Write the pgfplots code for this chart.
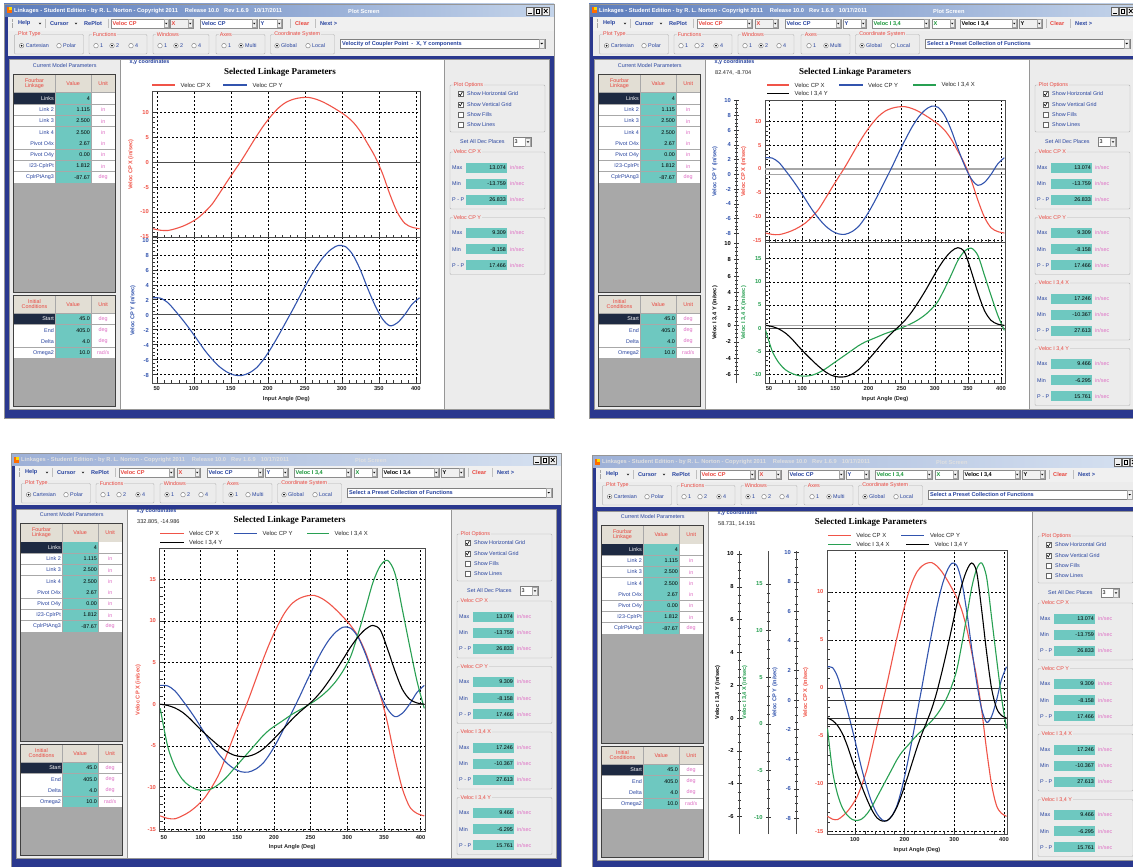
\documentclass[border=0pt]{standalone}
\usepackage{pgfplots}
\pgfplotsset{compat=1.18}
\usepackage{pgfplotstable}
\usepackage{fontspec}
\setmainfont{Liberation Sans}
\newfontfamily\ttlfont{Liberation Serif}

\definecolor{navyframe}{RGB}{42,56,142}
\definecolor{tbA}{RGB}{92,124,188}
\definecolor{tbB}{RGB}{196,212,234}
\definecolor{barbg}{RGB}{240,240,240}
\definecolor{pnl}{RGB}{236,236,236}
\definecolor{sep}{RGB}{150,150,150}
\definecolor{tblgray}{RGB}{168,168,168}
\definecolor{hdr}{RGB}{226,222,212}
\definecolor{navycell}{RGB}{30,42,66}
\definecolor{teal}{RGB}{110,200,192}
\definecolor{guired}{RGB}{232,70,62}
\definecolor{guiblue}{RGB}{38,66,158}
\definecolor{guipink}{RGB}{222,110,196}
\definecolor{guigreen}{RGB}{24,150,56}
\definecolor{cred}{RGB}{240,84,72}
\definecolor{cblue}{RGB}{50,84,174}
\definecolor{cgreen}{RGB}{40,160,82}

% velocities over one crank revolution (in/sec)
\pgfplotstableread{
ang   cpx     cpy     ix      iy
45   -13.40   2.25   -0.50    0.00
55   -13.70   2.20   -5.00   -0.15
65   -13.75   1.60   -7.50   -0.45
75   -13.40   0.50   -9.00   -0.95
85   -12.90  -0.70   -9.80   -1.70
95   -12.20  -2.00  -10.25   -2.60
105  -11.30  -3.40  -10.35   -3.45
115  -10.00  -4.80  -10.15   -4.25
125   -8.40  -6.00   -9.60   -5.00
135   -6.20  -7.00   -8.80   -5.65
145   -3.90  -7.70   -7.80   -6.10
155   -1.70  -8.10   -6.80   -6.28
165    0.50  -8.15   -5.80   -6.25
175    2.90  -7.80   -4.80   -5.95
185    5.30  -7.10   -3.80   -5.40
195    7.50  -5.90   -3.00   -4.60
205    9.40  -4.40   -2.40   -3.70
215   11.00  -2.70   -1.80   -2.75
225   12.10  -0.90   -1.20   -1.80
235   12.70   0.90   -0.70   -0.95
245   13.00   2.80   -0.20   -0.20
255   13.05   4.60    0.35    0.60
265   12.70   6.30    1.00    1.60
275   12.10   7.70    1.80    2.80
285   11.30   8.70    2.80    4.10
295   10.40   9.25    4.10    5.50
305    9.40   9.10    5.80    6.90
315    8.10   8.00    8.50    8.10
325    6.20   6.00   11.50    9.00
335    3.70   3.50   14.60    9.45
345    1.10   1.20   16.60    8.90
355   -2.30  -0.60   17.25    6.60
365   -6.50  -1.50   15.70    4.00
375  -10.10  -1.10   11.40    1.80
385  -12.30   0.00    7.00    0.60
395  -13.10   1.40    2.80    0.15
405  -13.40   2.25   -0.50    0.00
}\vel

\newcommand\gf{\fontsize{5.4}{6}\selectfont}
\newcommand\gfb{\fontsize{5.6}{6}\selectfont\bfseries}
\newcommand\tfb{\fontsize{5.7}{6}\selectfont\bfseries}

% ---------- window pieces (coordinates relative to the window corner) ----------
\newcommand\dd[2]{\fill[black] (#1-1.3,#2+0.7) -- (#1+1.3,#2+0.7) -- (#1,#2-0.8) -- cycle;}

\newcommand\winframe[3]{% title bar left colour, right colour, text colour
  \fill[pnl] (0,0) rectangle (550,-414);
  \shade[left color=#1,right color=#2] (0,0) rectangle (550,-13);
  \fill[orange!85!red] (2.5,-3.5) rectangle (7.5,-9.5);
  \fill[yellow!80!orange] (4.5,-3.5) rectangle (7.5,-6.5);
  \node[anchor=west,text=#3,font=\tfb,inner sep=0] at (10,-7.2)
    {Linkages - Student Edition - by R. L. Norton - Copyright 2011\hspace{7pt}Release 10.0\hspace{5pt}Rev 1.6.9\hspace{5pt}10/17/2011};
  \node[anchor=west,text=#3,font=\tfb,inner sep=0] at (344,-7.2) {Plot Screen};
  \foreach \bx in {522,530,538}{\draw[black!60,fill=barbg] (\bx,-3) rectangle (\bx+7.5,-11);}
  \draw[black,line width=0.8pt] (524,-9.2) -- (527.5,-9.2);
  \draw[black,line width=0.6pt] (532,-5) rectangle (535.5,-9);
  \draw[black,line width=0.8pt] (540,-5) -- (543.5,-9) (540,-9) -- (543.5,-5);
  \fill[barbg] (0,-13) rectangle (550,-27);
  \fill[navyframe] (0,-13) rectangle (4,-414);
  \fill[pnl] (4,-27) rectangle (550,-52);
  \fill[navyframe] (0,-52) rectangle (550,-414);
  \fill[sep] (5,-55.5) rectangle (545.5,-405.5);
  \fill[pnl] (6,-56.5) rectangle (115.5,-405);
  \fill[white] (117,-56.5) rectangle (439.5,-405);
  \fill[pnl] (441,-56.5) rectangle (545,-405);
  \draw[sep] (0,0) rectangle (550,-414);
}

\newcommand\tbsep[1]{\draw[black!25] (#1,-15) -- (#1,-24);}
\newcommand\tbtext[3]{\node[anchor=west,font=\gfb,text=#2,inner sep=0] at (#1,-19.5) {#3};}
\newcommand\toolbarstart{%
  \draw[black!35,dash pattern=on 0.6pt off 0.6pt] (8,-15) -- (8,-24);
  \tbtext{14}{guiblue}{Help}\dd{36}{-19.5}\tbsep{41}
  \tbtext{46}{guiblue}{Cursor}\dd{72}{-19.5}
  \tbtext{80}{guiblue}{RePlot}\tbsep{104}
}
\newcommand\combo[5]{% x1, x2, colour, text, fill
  \draw[black!45,fill=#5] (#1,-15) rectangle (#2,-24);
  \fill[barbg] (#2-5,-15.5) rectangle (#2-0.5,-23.5);
  \draw[black!35] (#2-5,-15.5) rectangle (#2-0.5,-23.5);
  \dd{#2-2.75}{-19.5}
  \node[anchor=west,font=\gfb,text=#3,inner sep=0] at (#1+1.5,-19.5) {#4};
}
\newcommand\toolbarTwo{%
  \toolbarstart
  \combo{107}{165}{guired}{Veloc CP}{white}
  \combo{166}{189}{guired}{X}{barbg}
  \combo{196}{253}{guiblue}{Veloc CP}{white}
  \combo{255}{278}{guiblue}{Y}{white}
  \tbsep{286}\tbtext{291}{guired}{Clear}\tbsep{311}\tbtext{316}{guiblue}{Next >}
}
\newcommand\toolbarFour{%
  \toolbarstart
  \combo{108}{163}{guired}{Veloc CP}{white}
  \combo{166}{189}{guired}{X}{barbg}
  \combo{196}{252}{guiblue}{Veloc CP}{white}
  \combo{254}{277}{guiblue}{Y}{white}
  \combo{283}{340}{guigreen}{Veloc I 3,4}{white}
  \combo{343}{366}{guigreen}{X}{white}
  \combo{371}{428}{black}{Veloc I 3,4}{white}
  \combo{430}{453}{black}{Y}{barbg}
  \tbsep{457}\tbtext{461}{guired}{Clear}\tbsep{481}\tbtext{486}{guiblue}{Next >}
}

\newcommand\grp[3]{%
  \draw[black!30,rounded corners=1pt] (#1,-30.5) rectangle (#2,-50);
  \node[fill=pnl,inner sep=0.6pt,anchor=west,font=\gf,text=guired] at (#1+3,-30.5) {#3};
}
\newcommand\radio[3]{%
  \draw[black!55,fill=white] (#1,-41.7) circle (2.3);
  \ifnum#2=1 \fill[black] (#1,-41.7) circle (1);\fi
  \node[anchor=west,font=\gf,text=guiblue,inner sep=0] at (#1+4,-41.7) {#3};
}
\newcommand\optionsrow[4]{% functions, windows, axes (0=1,1=Multi), preset text
  \grp{10.4}{79.5}{Plot Type}
  \radio{17.6}{1}{Cartesian}\radio{55}{0}{Polar}
  \grp{85}{143}{Functions}
  \radio{92}{\ifnum#1=1 1\else0\fi}{1}\radio{108}{\ifnum#1=2 1\else0\fi}{2}\radio{127}{\ifnum#1=4 1\else0\fi}{4}
  \grp{149}{205}{Windows}
  \radio{156}{\ifnum#2=1 1\else0\fi}{1}\radio{172}{\ifnum#2=2 1\else0\fi}{2}\radio{190}{\ifnum#2=4 1\else0\fi}{4}
  \grp{212}{261}{Axes}
  \radio{220}{\ifnum#3=0 1\else0\fi}{1}\radio{237}{\ifnum#3=1 1\else0\fi}{Multi}
  \grp{266.5}{330.5}{Coordinate System}
  \radio{273}{1}{Global}\radio{304}{0}{Local}
  \draw[black!50,fill=white] (336,-35) rectangle (541,-44.5);
  \fill[barbg] (535,-35.5) rectangle (540.5,-44);
  \draw[black!35] (535,-35.5) rectangle (540.5,-44);
  \dd{537.75}{-39.7}
  \node[anchor=west,font=\gfb,text=guiblue,inner sep=0] at (338,-39.8) {#4};
}

\newcommand\leftpanel{%
  \node[font=\gf,text=guiblue] at (60.7,-61.3) {Current Model Parameters};
  \fill[tblgray] (9.5,-70.5) rectangle (111.5,-288);
  \draw[black!75,line width=0.9pt] (9.5,-70.5) rectangle (111.5,-288);
  \fill[hdr] (10,-71) rectangle (51,-88.5);
  \fill[hdr] (51.5,-71) rectangle (87,-88.5);
  \fill[hdr] (87.5,-71) rectangle (111,-88.5);
  \node[font=\gf,text=guired,align=center,inner sep=0] at (30.5,-79.7) {Fourbar\\[-0.5pt]Linkage};
  \node[font=\gf,text=guired] at (69.2,-79.7) {Value};
  \node[font=\gf,text=guired] at (99.2,-79.7) {Unit};
  \foreach \la/\va/\un [count=\i from 0] in {Links/4/{},Link 2/1.115/in,Link 3/2.500/in,Link 4/2.500/in,Pivot O4x/2.67/in,Pivot O4y/0.00/in,I23-CplrPt/1.812/in,CplrPtAng3/-87.67/deg}{
    \pgfmathsetmacro\yt{-89.3-11.25*\i}
    \pgfmathsetmacro\yb{\yt-10.5}
    \pgfmathsetmacro\yc{\yt-5.25}
    \ifnum\i=0 \fill[navycell] (10,\yt) rectangle (51,\yb);\def\lc{white}\else\fill[white] (10,\yt) rectangle (51,\yb);\def\lc{guiblue}\fi
    \fill[teal] (51.5,\yt) rectangle (87,\yb);
    \fill[white] (87.5,\yt) rectangle (111,\yb);
    \node[anchor=east,font=\gf,text=\lc,inner sep=0] at (50,\yc) {\la};
    \node[anchor=east,font=\gf,text=black,inner sep=0] at (86,\yc) {\va};
    \node[font=\gf,text=guipink,inner sep=0] at (99.2,\yc) {\un};
  }
  \fill[tblgray] (9.5,-291) rectangle (111.5,-402);
  \draw[black!75,line width=0.9pt] (9.5,-291) rectangle (111.5,-402);
  \fill[hdr] (10,-291.5) rectangle (51,-309);
  \fill[hdr] (51.5,-291.5) rectangle (87,-309);
  \fill[hdr] (87.5,-291.5) rectangle (111,-309);
  \node[font=\gf,text=guired,align=center,inner sep=0] at (30.5,-300.2) {Initial\\[-0.5pt]Conditions};
  \node[font=\gf,text=guired] at (69.2,-300.2) {Value};
  \node[font=\gf,text=guired] at (99.2,-300.2) {Unit};
  \foreach \la/\va/\un [count=\i from 0] in {Start/45.0/deg,End/405.0/deg,Delta/4.0/deg,Omega2/10.0/{rad/s}}{
    \pgfmathsetmacro\yt{-309.8-11.25*\i}
    \pgfmathsetmacro\yb{\yt-10.5}
    \pgfmathsetmacro\yc{\yt-5.25}
    \ifnum\i=0 \fill[navycell] (10,\yt) rectangle (51,\yb);\def\lc{white}\else\fill[white] (10,\yt) rectangle (51,\yb);\def\lc{guiblue}\fi
    \fill[teal] (51.5,\yt) rectangle (87,\yb);
    \fill[white] (87.5,\yt) rectangle (111,\yb);
    \node[anchor=east,font=\gf,text=\lc,inner sep=0] at (50,\yc) {\la};
    \node[anchor=east,font=\gf,text=black,inner sep=0] at (86,\yc) {\va};
    \node[font=\gf,text=guipink,inner sep=0] at (99.2,\yc) {\un};
  }
}

\newcommand\rightpanelbase{%
  \draw[black!30,rounded corners=1pt] (446,-81) rectangle (541,-128);
  \node[fill=pnl,inner sep=0.5pt,anchor=west,font=\gf,text=guired] at (449,-81) {Plot Options};
  \foreach \t/\c [count=\i from 0] in {Show Horizontal Grid/1,Show Vertical Grid/1,Show Fills/0,Show Lines/0}{
    \pgfmathsetmacro\yc{-90-10.3*\i}
    \draw[black!60,fill=white] (454,\yc+2.5) rectangle (459,\yc-2.5);
    \ifnum\c=1 \draw[black,line width=0.6pt] (455,\yc) -- (456.3,\yc-1.6) -- (458.3,\yc+1.9);\fi
    \node[anchor=west,font=\gf,text=guiblue,inner sep=0] at (463,\yc) {\t};
  }
  \node[anchor=west,font=\gf,text=guiblue,inner sep=0] at (456,-138) {Set All Dec Places};
  \draw[black!50,fill=white] (509,-133.5) rectangle (527,-142.5);
  \fill[barbg] (521.5,-134) rectangle (526.5,-142);
  \draw[black!35] (521.5,-134) rectangle (526.5,-142);
  \dd{524}{-138}
  \node[anchor=west,font=\gf,inner sep=0] at (510.5,-138) {3};
}
\newcommand\valgroup[5]{% slot, name, max, min, p-p
  \pgfmathsetmacro\gtop{-148-65.5*#1}
  \draw[black!30,rounded corners=1pt] (446,\gtop) rectangle (541,\gtop-57);
  \node[fill=pnl,inner sep=0.5pt,anchor=west,font=\gf,text=guired] at (449,\gtop) {#2};
  \foreach \lab/\v [count=\r from 0] in {Max/#3,Min/#4,P - P/#5}{
    \pgfmathsetmacro\yc{\gtop-15.5-16.2*\r}
    \node[anchor=west,font=\gf,text=guiblue,inner sep=0] at (448,\yc) {\lab};
    \fill[teal] (462,\yc+5) rectangle (503,\yc-5);
    \node[anchor=east,font=\gf,inner sep=0] at (502,\yc) {\v};
    \node[anchor=west,font=\gf,text=guipink,inner sep=0] at (506,\yc) {in/sec};
  }
}
\newcommand\fourgroups{%
  \valgroup{0}{Veloc CP X}{13.074}{-13.759}{26.833}
  \valgroup{1}{Veloc CP Y}{9.309}{-8.158}{17.466}
  \valgroup{2}{Veloc I 3,4 X}{17.246}{-10.367}{27.613}
  \valgroup{3}{Veloc I 3,4 Y}{9.466}{-6.295}{15.761}
}
\newcommand\xycoord[1]{%
  \node[anchor=west,font=\fontsize{5.4}{6}\selectfont\bfseries,text=guiblue,inner sep=0] at (125.5,-58.5) {x,y coordinates};
  \node[anchor=west,font=\fontsize{5.6}{6}\selectfont,text=black!85,inner sep=0] at (126,-68.5) {#1};
}

% ---------- plot pieces (absolute coordinates) ----------
\newcommand\plottitle[2]{\node[font=\ttlfont\bfseries\fontsize{9}{10}\selectfont] at (#1,-#2) {Selected Linkage Parameters};}
\newcommand\leg[5]{%
  \fill[#4] (#1,-#3+0.75) rectangle (#2,-#3-0.75);
  \node[anchor=west,font=\fontsize{5.9}{7}\selectfont,inner sep=0,text=black!85] at (#2+5.5,-#3) {#5};
}

\pgfplotsset{
  lkmain/.style={
    scale only axis, anchor=north west,
    xmin=44, xmax=406,
    /pgf/number format/assume math mode=true,
    axis line style={draw=black!70, line width=0.7pt},
    every tick/.style={draw=black!80, line width=0.45pt},
    major tick length=4.5pt, minor tick length=3pt,
    tick align=inside,
    xtick pos=bottom, ytick pos=left,
    xtick={50,100,...,400}, minor x tick num=4,
    xmajorgrids, ymajorgrids,
    major grid style={draw=black, line width=0.4pt, dash pattern=on 2pt off 2pt},
    tick label style={font=\fontsize{5.8}{7}\selectfont\bfseries},
    xticklabel style={text=black!85},
    label style={font=\fontsize{5.6}{6.5}\selectfont\bfseries},
    xlabel style={text=black!85, yshift=1.5pt},
  },
  lkhid/.style={scale only axis, anchor=north west, xmin=44, xmax=406, hide axis},
  lkruler/.style={
    scale only axis, anchor=north west, width=1pt, xmin=0, xmax=1,
    /pgf/number format/assume math mode=true,
    hide x axis, axis y line=left,
    y axis line style={-, draw=black!70, line width=0.6pt},
    every tick/.style={draw=black!80, line width=0.45pt},
    major tick length=4.5pt, minor tick length=3pt, tick align=center,
    tick label style={font=\fontsize{5.8}{7}\selectfont\bfseries},
    label style={font=\fontsize{5.6}{6.5}\selectfont\bfseries},
  },
  redy/.style={ytick={-15,-10,...,15}, minor y tick num=4, yticklabel style={text=cred}, ylabel style={text=cred}},
  bluey/.style={ytick={-8,-6,...,10}, minor y tick num=3, yticklabel style={text=cblue}, ylabel style={text=cblue}},
  greeny/.style={ytick={-10,-5,...,15}, minor y tick num=4, yticklabel style={text=cgreen}, ylabel style={text=cgreen}},
  blacky/.style={ytick={-6,-4,...,10}, minor y tick num=3, yticklabel style={text=black}, ylabel style={text=black}},
  crv/.style={line width=1.1pt, smooth, mark=none},
}

\begin{document}
\begin{tikzpicture}[x=1pt,y=1pt]
\useasboundingbox (0,0) rectangle (1133,-867);
\clip (0,0) rectangle (1133,-867);
\fill[white] (0,0) rectangle (1133,-867);

% ===== window 1 =====
\begin{scope}[shift={(4,-4)}]
  \winframe{tbA}{tbB}{white} \toolbarTwo
  \optionsrow{2}{2}{1}{Velocity of Coupler Point\hspace{3pt}-\hspace{3pt}X, Y components}
  \leftpanel \rightpanelbase
  \valgroup{0}{Veloc CP X}{13.074}{-13.759}{26.833}
  \valgroup{1}{Veloc CP Y}{9.309}{-8.158}{17.466}
  \node[anchor=west,font=\fontsize{5.4}{6}\selectfont\bfseries,text=guiblue,inner sep=0] at (125.5,-58.5) {x,y coordinates};
\end{scope}
% ===== window 2 =====
\begin{scope}[shift={(589,-4)}]
  \winframe{tbA}{tbB}{white} \toolbarFour
  \optionsrow{4}{2}{1}{Select a Preset Collection of Functions}
  \leftpanel \rightpanelbase \fourgroups
  \xycoord{82.474, -8.704}
\end{scope}
% ===== window 3 =====
\begin{scope}[shift={(11,-453)}]
  \winframe{tbA!60!white}{tbB!70!white}{white!88!black} \toolbarFour
  \optionsrow{4}{1}{0}{Select a Preset Collection of Functions}
  \leftpanel \rightpanelbase \fourgroups
  \xycoord{332.805, -14.986}
\end{scope}
% ===== window 4 =====
\begin{scope}[shift={(592,-455)}]
  \winframe{tbA!60!white}{tbB!70!white}{white!88!black} \toolbarFour
  \optionsrow{4}{1}{1}{Select a Preset Collection of Functions}
  \leftpanel \rightpanelbase \fourgroups
  \xycoord{58.731, 14.191}
\end{scope}

% ===== titles and legends of the four plots =====
\plottitle{280}{72.3}
\leg{151.7}{175}{85}{cred}{Veloc CP X}
\leg{223}{247}{85}{cblue}{Veloc CP Y}

\plottitle{855}{72}
\leg{767}{789}{85}{cred}{Veloc CP X}
\leg{839}{862.5}{85}{cblue}{Veloc CP Y}
\leg{913}{936}{85}{cgreen}{Veloc I 3,4 X}
\leg{767}{789}{93.3}{black}{Veloc I 3,4 Y}

\plottitle{289.6}{520.7}
\leg{160}{183.5}{533.5}{cred}{Veloc CP X}
\leg{234}{257}{533.5}{cblue}{Veloc CP Y}
\leg{306.5}{329}{533.5}{cgreen}{Veloc I 3,4 X}
\leg{160}{183.5}{542.5}{black}{Veloc I 3,4 Y}

\plottitle{870.8}{522.7}
\leg{827.7}{850.7}{535.5}{cred}{Veloc CP X}
\leg{901}{924.4}{535.5}{cblue}{Veloc CP Y}
\leg{827.7}{850.7}{544.5}{cgreen}{Veloc I 3,4 X}
\leg{905.7}{929}{544.5}{black}{Veloc I 3,4 Y}

% ===== plot 1: two stacked axes =====
\begin{axis}[lkmain,redy,at={(152.3pt,-91.7pt)},width=268pt,height=146pt,
  ymin=-15.2,ymax=14.2,ytick={-15,-10,...,10},xticklabels={},ylabel={Veloc CP X (in/sec)}]
  \draw[black!70,line width=0.6pt] (axis cs:44,0) -- (axis cs:406,0);
  \addplot[cred,crv] table[x=ang,y=cpx]{\vel};
\end{axis}
\begin{axis}[lkmain,bluey,at={(152.3pt,-237.7pt)},width=268pt,height=145.6pt,
  ymin=-9.2,ymax=10.3,ylabel={Veloc CP Y (in/sec)},xlabel={Input Angle (Deg)},
  yticklabel style={yshift=-1pt}]
  \draw[black!70,line width=0.6pt] (axis cs:44,0) -- (axis cs:406,0);
  \addplot[cblue,crv] table[x=ang,y=cpy]{\vel};
\end{axis}

% ===== plot 2: stacked, two scales each =====
\begin{axis}[lkruler,bluey,at={(736.7pt,-100.7pt)},height=141.6pt,ymin=-9.24,ymax=10.0,ylabel={Veloc CP Y (in/sec)}]
\end{axis}
\begin{axis}[lkmain,redy,at={(765pt,-100.7pt)},width=240pt,height=141.6pt,
  ymin=-15.35,ymax=14.3,ytick={-15,-10,...,10},xticklabels={},ylabel={Veloc CP X (in/sec)}]
  \draw[black!35,line width=1.4pt] (axis cs:44,0) -- (axis cs:406,0);
  \addplot[cred,crv] table[x=ang,y=cpx]{\vel};
\end{axis}
\begin{axis}[lkhid,at={(765pt,-100.7pt)},width=240pt,height=141.6pt,ymin=-9.24,ymax=10.0]
  \draw[black!35,line width=1.4pt] (axis cs:44,0) -- (axis cs:406,0);
  \addplot[cblue,crv] table[x=ang,y=cpy]{\vel};
\end{axis}
\begin{axis}[lkruler,blacky,at={(736.7pt,-242.3pt)},height=141pt,ymin=-7.05,ymax=10.1,ylabel={Veloc I 3,4 Y (in/sec)}]
\end{axis}
\begin{axis}[lkmain,greeny,at={(765pt,-242.3pt)},width=240pt,height=141pt,
  ymin=-11.9,ymax=18.5,ylabel={Veloc I 3,4 X (in/sec)},xlabel={Input Angle (Deg)}]
  \draw[black!70,line width=0.6pt] (axis cs:44,0) -- (axis cs:406,0);
  \addplot[cgreen,crv] table[x=ang,y=ix]{\vel};
\end{axis}
\begin{axis}[lkhid,at={(765pt,-242.3pt)},width=240pt,height=141pt,ymin=-7.05,ymax=10.1]
  \draw[black!35,line width=1.4pt] (axis cs:44,0) -- (axis cs:406,0);
  \addplot[black,crv] table[x=ang,y=iy]{\vel};
\end{axis}

% ===== plot 3: one axis, all four =====
\begin{axis}[lkmain,redy,at={(159.5pt,-548.3pt)},width=265.5pt,height=283.4pt,
  ymin=-15.3,ymax=18.7,ylabel={Veloc CP X (in/sec)},xlabel={Input Angle (Deg)}]
  \draw[black!70,line width=0.6pt] (axis cs:44,0) -- (axis cs:406,0);
  \addplot[cred,crv] table[x=ang,y=cpx]{\vel};
  \addplot[cblue,crv] table[x=ang,y=cpy]{\vel};
  \addplot[cgreen,crv] table[x=ang,y=ix]{\vel};
  \addplot[black,crv] table[x=ang,y=iy]{\vel};
\end{axis}

% ===== plot 4: four scales side by side =====
\begin{axis}[lkruler,blacky,at={(739.3pt,-550.7pt)},height=283.3pt,ymin=-7.07,ymax=10.2,ylabel={Veloc I 3,4 Y (in/sec)}]
\end{axis}
\begin{axis}[lkruler,greeny,at={(768.3pt,-550.7pt)},height=283.3pt,ymin=-11.8,ymax=18.56,ylabel={Veloc I 3,4 X (in/sec)}]
\end{axis}
\begin{axis}[lkruler,bluey,at={(796.7pt,-550.7pt)},height=283.3pt,ymin=-9.05,ymax=10.1,ylabel={Veloc CP Y (in/sec)}]
\end{axis}
\begin{axis}[lkmain,redy,at={(827pt,-550.7pt)},width=180pt,height=283.3pt,
  ymin=-15.25,ymax=14.3,ytick={-15,-10,...,10},xtick={100,200,300,400},minor x tick num=4,
  ylabel={Veloc CP X (in/sec)},xlabel={Input Angle (Deg)}]
  \draw[black!80,line width=0.6pt] (axis cs:44,0) -- (axis cs:406,0);
  \addplot[cred,crv] table[x=ang,y=cpx]{\vel};
\end{axis}
\begin{axis}[lkhid,at={(827pt,-550.7pt)},width=180pt,height=283.3pt,ymin=-9.05,ymax=10.1]
  \draw[black!80,line width=0.6pt] (axis cs:44,0) -- (axis cs:406,0);
  \addplot[cblue,crv] table[x=ang,y=cpy]{\vel};
\end{axis}
\begin{axis}[lkhid,at={(827pt,-550.7pt)},width=180pt,height=283.3pt,ymin=-11.8,ymax=18.56]
  \draw[black!80,line width=0.6pt] (axis cs:44,0) -- (axis cs:406,0);
  \addplot[cgreen,crv] table[x=ang,y=ix]{\vel};
\end{axis}
\begin{axis}[lkhid,at={(827pt,-550.7pt)},width=180pt,height=283.3pt,ymin=-7.07,ymax=10.2]
  \draw[black!80,line width=0.6pt] (axis cs:44,0) -- (axis cs:406,0);
  \addplot[black,crv] table[x=ang,y=iy]{\vel};
\end{axis}
\end{tikzpicture}
\end{document}
